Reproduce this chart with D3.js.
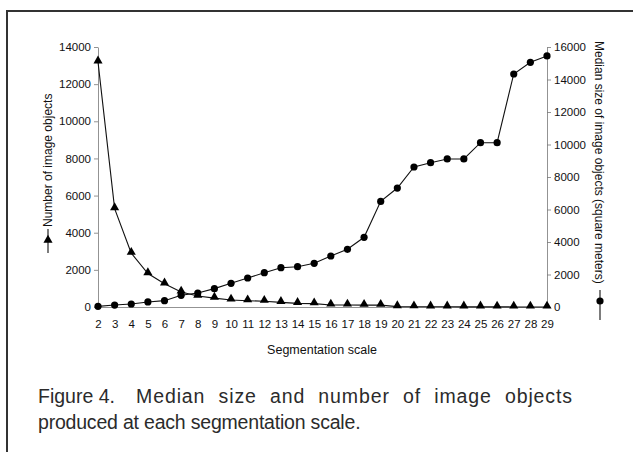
<!DOCTYPE html>
<html>
<head>
<meta charset="utf-8">
<script src="https://cdn.jsdelivr.net/npm/d3@7"></script>
<style>
  body { margin: 0; background: #fff; }
  svg { display: block; }
  .tick text { font-family: "Liberation Sans", Arial, sans-serif; font-size: 11.5px; fill: #111; }
</style>
</head>
<body>
<svg></svg>
<script>
// segmentation scale 2..29
const scales = [2, 3, 4, 5, 6, 7, 8, 9, 10, 11, 12, 13, 14, 15, 16, 17, 18, 19, 20, 21, 22, 23, 24, 25, 26, 27, 28, 29];
// number of image objects (left axis, triangles)
const numObjects = [13200, 5300, 2900, 1800, 1250, 810, 590, 480, 380, 340, 310, 250, 195, 180,
  110, 110, 100, 100, 20, 15, 12, 10, 8, 6, 5, 4, 3, 2];
// median size of image objects, square meters (right axis, circles)
const medianSize = [40, 120, 185, 310, 390, 720, 860, 1130, 1460, 1785, 2110, 2420, 2480, 2690,
  3140, 3550, 4290, 6500, 7320, 8615, 8880, 9110, 9110, 10110, 10110, 14340, 15060, 15450];
const leftTicks = [0, 2000, 4000, 6000, 8000, 10000, 12000, 14000];
const rightTicks = [0, 2000, 4000, 6000, 8000, 10000, 12000, 14000, 16000];

const width = 633, height = 452;
const font = '"Liberation Sans", Arial, sans-serif';

const svg = d3.select("svg").attr("width", width).attr("height", height);

// outer frame (top and left edges)
svg.append("path")
  .attr("d", `M7,${height} V11 H${width}`)
  .attr("fill", "none")
  .attr("stroke", "#333")
  .attr("stroke-width", 2);

const x = d3.scaleLinear().domain([2, 29]).range([98, 547]);
const yL = d3.scaleLinear().domain([0, 14000]).range([307, 47]);
const yR = d3.scaleLinear().domain([0, 16000]).range([307, 47]);

// axes
const styleAxis = g => {
  g.select(".domain").attr("stroke", "#777").attr("stroke-width", 0.8);
  g.selectAll(".tick line").attr("stroke", "#777").attr("stroke-width", 0.8);
};

svg.append("g")
  .attr("transform", "translate(98,0)")
  .call(d3.axisLeft(yL).tickValues(leftTicks).tickFormat(d3.format("d")).tickSize(4).tickPadding(3).tickSizeOuter(0))
  .call(styleAxis);

svg.append("g")
  .attr("transform", "translate(547,0)")
  .call(d3.axisRight(yR).tickValues(rightTicks).tickFormat(d3.format("d")).tickSize(4).tickPadding(3).tickSizeOuter(0))
  .call(styleAxis);

svg.append("g")
  .attr("transform", "translate(0,307)")
  .call(d3.axisBottom(x).tickValues(scales).tickFormat(d3.format("d")).tickSize(0).tickPadding(13))
  .call(styleAxis);

// series lines
const lineL = d3.line().x((d, i) => x(scales[i])).y(d => yL(d));
const lineR = d3.line().x((d, i) => x(scales[i])).y(d => yR(d));

svg.append("path").datum(numObjects)
  .attr("d", lineL).attr("fill", "none").attr("stroke", "#111").attr("stroke-width", 1.1);
svg.append("path").datum(medianSize)
  .attr("d", lineR).attr("fill", "none").attr("stroke", "#111").attr("stroke-width", 1.1);

const tri = d3.symbol().type(d3.symbolTriangle).size(36);

svg.selectAll(".tri")
  .data(numObjects).enter().append("path")
  .attr("class", "tri")
  .attr("d", tri)
  .attr("transform", (d, i) => `translate(${x(scales[i])},${yL(d) - 1})`)
  .attr("fill", "#000");

svg.selectAll(".dot")
  .data(medianSize).enter().append("circle")
  .attr("class", "dot")
  .attr("cx", (d, i) => x(scales[i]))
  .attr("cy", d => yR(d))
  .attr("r", 3.6)
  .attr("fill", "#000");

// axis titles with legend keys
svg.append("text")
  .attr("transform", "translate(52,227) rotate(-90)")
  .attr("font-family", font).attr("font-size", 12).attr("fill", "#111")
  .text("Number of image objects");
svg.append("line")
  .attr("x1", 48).attr("x2", 48).attr("y1", 229).attr("y2", 253)
  .attr("stroke", "#111").attr("stroke-width", 1.1);
svg.append("path")
  .attr("d", tri)
  .attr("transform", "translate(48,240)")
  .attr("fill", "#000");

svg.append("text")
  .attr("transform", "translate(595,41) rotate(90)")
  .attr("font-family", font).attr("font-size", 12).attr("fill", "#111")
  .text("Median size of image objects (square meters)");
svg.append("line")
  .attr("x1", 600).attr("x2", 600).attr("y1", 290).attr("y2", 320)
  .attr("stroke", "#111").attr("stroke-width", 1.1);
svg.append("circle")
  .attr("cx", 600).attr("cy", 301).attr("r", 3.6).attr("fill", "#000");

svg.append("text")
  .attr("x", 322).attr("y", 354)
  .attr("text-anchor", "middle")
  .attr("font-family", font).attr("font-size", 12.5).attr("fill", "#111")
  .text("Segmentation scale");

// caption - first line is justified to the column width
const caption = svg.append("g")
  .attr("font-family", font).attr("font-size", 19.5).attr("fill", "#2b2b2b");
caption.append("text")
  .attr("x", 38).attr("y", 403)
  .text("Figure 4.");
const line1 = caption.append("text")
  .attr("x", 136).attr("y", 403)
  .attr("letter-spacing", 0.9)
  .text("Median size and number of image objects");
const w1 = line1.node().getComputedTextLength();
line1.attr("word-spacing", Math.max(0, (573 - 136 - w1) / 6));
caption.append("text")
  .attr("x", 38).attr("y", 429)
  .attr("letter-spacing", -0.2)
  .text("produced at each segmentation scale.");
</script>
</body>
</html>
